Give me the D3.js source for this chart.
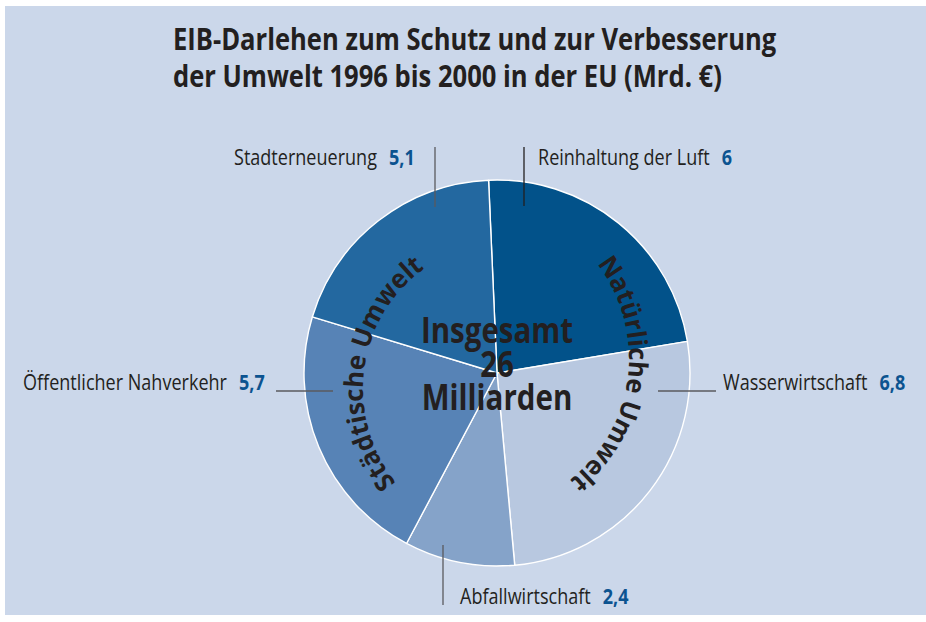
<!DOCTYPE html>
<html>
<head>
<meta charset="utf-8">
<script src="https://cdn.jsdelivr.net/npm/d3@7"></script>
<style>
  html, body { margin: 0; padding: 0; background: #ffffff; }
  svg { display: block; }
</style>
</head>
<body>
<svg id="chart" width="926" height="622"></svg>
<script>
// ---- data ----
const titleLines = ["EIB-Darlehen zum Schutz und zur Verbesserung", "der Umwelt 1996 bis 2000 in der EU (Mrd. €)"];
const categories = ["Reinhaltung der Luft", "Wasserwirtschaft", "Abfallwirtschaft", "Öffentlicher Nahverkehr", "Stadterneuerung"];
const values = [6, 6.8, 2.4, 5.7, 5.1];
const valueLabels = ["6", "6,8", "2,4", "5,7", "5,1"];
const groups = ["Natürliche Umwelt", "Städtische Umwelt"];
const totalLines = ["Insgesamt", "26", "Milliarden"];

// ---- style / layout ----
const W = 926, H = 622;
const colors = ["#02528a", "#b8c8e0", "#85a3c9", "#5783b6", "#2368a0"];
const bg = "#cbd7ea";
const textDark = "#231f20";
const valueBlue = "#0b5390";
const cx = 497, cy = 373, R = 193;
const condense = 0.82;
const FONT = "'Open Sans', 'DejaVu Sans', sans-serif";

// label layout: [x start of name, baseline y, leader line x1,y1,x2,y2]
const labelLayout = [
  {x: 538, y: 165, line: [524, 147, 524, 206]},
  {x: 723, y: 390, line: [658, 391, 716, 391]},
  {x: 460, y: 604, line: [443, 545, 443, 605]},
  {x: 23,  y: 390, line: [276, 391, 333, 391]},
  {x: 234, y: 165, line: [435, 147, 435, 207]}
];
// curved group labels: circle centre, radius, start angle (deg, clockwise from top)
const groupLayout = [
  {cx: 474, cy: 358, r: 155, a0: 52.5},
  {cx: 512, cy: 389, r: 149, a0: 231}
];

const svg = d3.select("#chart");
svg.append("rect").attr("x", 5).attr("y", 6).attr("width", W - 5).attr("height", 609).attr("fill", bg);

// title
const title = svg.append("g");
titleLines.forEach((t, i) => {
  title.append("text")
    .attr("transform", `translate(173, ${50 + i * 37}) scale(0.825,1)`)
    .attr("font-family", FONT).attr("font-weight", 700).attr("font-size", 31)
    .attr("fill", textDark).text(t);
});

// pie
const pie = d3.pie().sort(null).value(d => d)
  .startAngle(-2.5 * Math.PI / 180).endAngle((357.5) * Math.PI / 180);
const arc = d3.arc().innerRadius(0).outerRadius(R);
const arcs = pie(values);
const g = svg.append("g").attr("transform", `translate(${cx},${cy})`);
g.selectAll("path").data(arcs).join("path")
  .attr("d", arc)
  .attr("fill", (d, i) => colors[i])
  .attr("stroke", "#ffffff").attr("stroke-width", 1.4).attr("stroke-linejoin", "round");

// leader lines + labels
categories.forEach((c, i) => {
  const L = labelLayout[i];
  svg.append("line")
    .attr("x1", L.line[0]).attr("y1", L.line[1]).attr("x2", L.line[2]).attr("y2", L.line[3])
    .attr("stroke", i === 0 ? "#231f20" : "#5a5a5e").attr("stroke-width", 1.3);
  const name = svg.append("text")
    .attr("transform", `translate(${L.x},${L.y}) scale(${condense},1)`)
    .attr("font-family", FONT).attr("font-size", 22).attr("fill", textDark)
    .text(c);
  const w = name.node().getComputedTextLength() * condense;
  svg.append("text")
    .attr("transform", `translate(${L.x + w + 12},${L.y}) scale(${condense},1)`)
    .attr("font-family", FONT).attr("font-size", 22).attr("font-weight", 700)
    .attr("fill", valueBlue).text(valueLabels[i]);
});

// curved group labels
const defs = svg.append("defs");
groups.forEach((t, i) => {
  const L = groupLayout[i];
  const p = a => [L.cx + L.r * Math.sin(a * Math.PI / 180), L.cy - L.r * Math.cos(a * Math.PI / 180)];
  const s = p(L.a0), m = p(L.a0 + 90), e = p(L.a0 + 179);
  defs.append("path").attr("id", "gp" + i)
    .attr("d", `M${s[0]},${s[1]} A${L.r},${L.r} 0 0 1 ${m[0]},${m[1]} A${L.r},${L.r} 0 0 1 ${e[0]},${e[1]}`);
  svg.append("text")
    .attr("font-family", FONT).attr("font-size", 26).attr("font-weight", 700)
    .attr("fill", textDark)
    .append("textPath").attr("href", "#gp" + i).attr("startOffset", 0)
    .attr("textLength", 242).attr("lengthAdjust", "spacingAndGlyphs")
    .text(t);
});

// centre total
totalLines.forEach((t, i) => {
  svg.append("text")
    .attr("transform", `translate(${cx},${343 + i * 33.5}) scale(${condense},1)`)
    .attr("text-anchor", "middle")
    .attr("font-family", FONT).attr("font-size", 36).attr("font-weight", 700)
    .attr("fill", textDark).text(t);
});
</script>
</body>
</html>
